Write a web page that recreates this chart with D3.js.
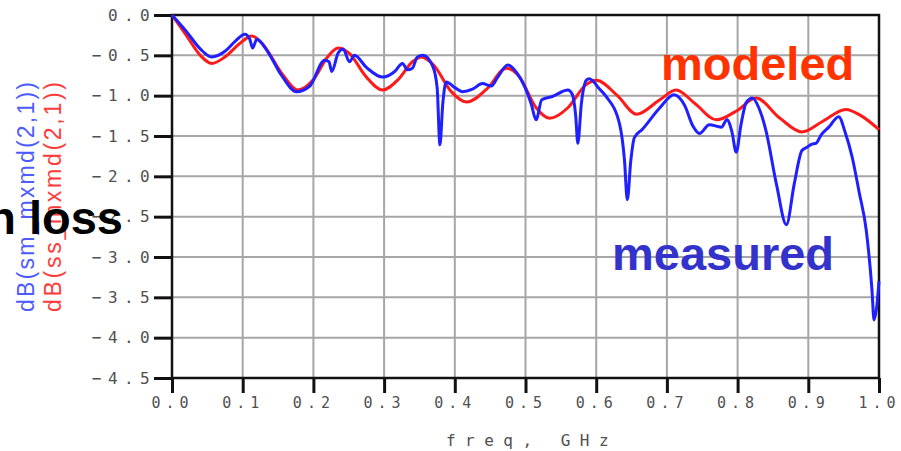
<!DOCTYPE html>
<html>
<head>
<meta charset="utf-8">
<script src="https://cdn.jsdelivr.net/npm/d3@7"></script>
<style>
    body { margin: 0; background: #fff; }
    svg { display: block; }
</style>
</head>
<body>
<div id="app"></div>
<script>

// modeled (red) curve
const modeled_freq = [0, 0.02, 0.04, 0.056, 0.075, 0.095, 0.113, 0.13, 0.155, 0.178, 0.2, 0.22, 0.235, 0.25, 0.275, 0.298, 0.32, 0.34, 0.353, 0.37, 0.395, 0.417, 0.445, 0.473, 0.49, 0.515, 0.534, 0.56, 0.585, 0.6, 0.63, 0.657, 0.69, 0.713, 0.74, 0.77, 0.8, 0.826, 0.86, 0.891, 0.92, 0.953, 0.975, 1.0]
const modeled_db = [0, -0.25, -0.5, -0.6, -0.52, -0.36, -0.26, -0.38, -0.72, -0.93, -0.8, -0.52, -0.41, -0.47, -0.77, -0.93, -0.8, -0.58, -0.52, -0.62, -0.95, -1.08, -0.92, -0.66, -0.75, -1.15, -1.28, -1.15, -0.87, -0.81, -1.0, -1.23, -1.05, -0.93, -1.1, -1.3, -1.18, -1.03, -1.28, -1.45, -1.32, -1.17, -1.25, -1.42]

// measured (blue) curve
const measured_freq = [0, 0.02, 0.04, 0.056, 0.075, 0.09, 0.103, 0.11, 0.114, 0.12, 0.135, 0.155, 0.176, 0.195, 0.216, 0.222, 0.226, 0.235, 0.242, 0.251, 0.258, 0.275, 0.298, 0.315, 0.326, 0.333, 0.34, 0.347, 0.355, 0.369, 0.375, 0.379, 0.383, 0.388, 0.4, 0.411, 0.425, 0.439, 0.452, 0.46, 0.475, 0.488, 0.499, 0.508, 0.515, 0.523, 0.538, 0.56, 0.566, 0.571, 0.574, 0.579, 0.586, 0.59, 0.605, 0.614, 0.633, 0.64, 0.644, 0.649, 0.654, 0.665, 0.69, 0.71, 0.725, 0.737, 0.746, 0.76, 0.777, 0.785, 0.792, 0.798, 0.805, 0.812, 0.821, 0.83, 0.84, 0.855, 0.869, 0.88, 0.891, 0.898, 0.905, 0.911, 0.918, 0.929, 0.943, 0.952, 0.962, 0.972, 0.982, 0.99, 0.993, 0.997, 1.0]
const measured_db = [0, -0.2, -0.42, -0.52, -0.45, -0.32, -0.24, -0.3, -0.41, -0.3, -0.45, -0.75, -0.95, -0.88, -0.56, -0.58, -0.7, -0.47, -0.42, -0.58, -0.5, -0.65, -0.77, -0.7, -0.6, -0.68, -0.66, -0.52, -0.5, -0.64, -0.9, -1.61, -1.1, -0.83, -0.9, -0.95, -0.92, -0.85, -0.88, -0.78, -0.62, -0.72, -0.89, -1.1, -1.3, -1.05, -1.01, -0.93, -0.98, -1.25, -1.59, -1.1, -0.81, -0.79, -0.92, -1.01, -1.35, -1.8, -2.29, -1.8, -1.52, -1.42, -1.15, -0.99, -1.12, -1.38, -1.47, -1.36, -1.39, -1.3, -1.45, -1.7, -1.35, -1.09, -1.03, -1.15, -1.43, -2.1, -2.6, -2.1, -1.68, -1.64, -1.6, -1.59, -1.49, -1.39, -1.26, -1.45, -1.76, -2.2, -2.67, -3.4, -3.78, -3.6, -3.3]

const x_ticks = [0, 0.1, 0.2, 0.3, 0.4, 0.5, 0.6, 0.7, 0.8, 0.9, 1.0]
const y_ticks = [0, -0.5, -1.0, -1.5, -2.0, -2.5, -3.0, -3.5, -4.0, -4.5]
const series_labels = ['dB(sm_mxmd(2,1))', 'dB(ss_mxmd(2,1))']
const x_title = 'freq, GHz'
const title_text = 'Insertion loss'
const modeled_text = 'modeled'
const measured_text = 'measured'

;(() => {

    const width = 901
    const height = 451

    const x_scale = d3
        .scaleLinear()
        .domain([0, 1])
        .range([172, 879])

    const y_scale = d3
        .scaleLinear()
        .domain([0, -4.5])
        .range([15, 378])

    const svg = d3
        .create('svg')
        .attr('viewBox', [0, 0, width, height])
        .attr('width', width)
        .attr('height', height)

    // grid
    svg
        .append('g')
        .selectAll('line')
        .data(x_ticks.slice(1, -1))
        .join('line')
        .attr('x1', d => x_scale(d))
        .attr('x2', d => x_scale(d))
        .attr('y1', y_scale.range()[0])
        .attr('y2', y_scale.range()[1])
        .attr('stroke', '#a6a6a6')
        .attr('stroke-width', 2)

    svg
        .append('g')
        .selectAll('line')
        .data(y_ticks.slice(1, -1))
        .join('line')
        .attr('x1', x_scale.range()[0])
        .attr('x2', x_scale.range()[1])
        .attr('y1', d => y_scale(d))
        .attr('y2', d => y_scale(d))
        .attr('stroke', '#a6a6a6')
        .attr('stroke-width', 2)

    // axes
    const x_axis = svg
        .append('g')
        .attr('transform', `translate(0, ${y_scale.range()[1]})`)
        .call(d3.axisBottom(x_scale)
            .tickValues(x_ticks)
            .tickFormat(d3.format('.1f'))
            .tickSize(15)
            .tickPadding(4))

    const y_axis = svg
        .append('g')
        .attr('transform', `translate(${x_scale.range()[0]}, 0)`)
        .call(d3.axisLeft(y_scale)
            .tickValues(y_ticks)
            .tickFormat(d3.format('.1f'))
            .tickSize(18)
            .tickPadding(0))

    ;[x_axis, y_axis].forEach(a => {
        a.select('.domain').remove()
        a.selectAll('.tick line')
            .attr('stroke', '#111')
            .attr('stroke-width', 3)
        a.selectAll('.tick text')
            .attr('fill', '#505050')
            .style('font-family', "'DejaVu Sans Mono', monospace")
    })

    x_axis.selectAll('.tick text')
        .style('font-size', '15px')
        .style('letter-spacing', '5px')

    y_axis.selectAll('.tick text')
        .attr('x', -16)
        .style('font-size', '16px')
        .style('letter-spacing', '6.4px')

    // frame
    svg
        .append('rect')
        .attr('x', x_scale.range()[0])
        .attr('y', y_scale.range()[0])
        .attr('width', x_scale.range()[1] - x_scale.range()[0])
        .attr('height', y_scale.range()[1] - y_scale.range()[0])
        .attr('fill', 'none')
        .attr('stroke', '#111')
        .attr('stroke-width', 2.5)

    const line = d3
        .line()
        .x(d => x_scale(d[0]))
        .y(d => y_scale(d[1]))
        .curve(d3.curveMonotoneX)

    svg
        .append('path')
        .datum(d3.zip(modeled_freq, modeled_db))
        .attr('d', line)
        .attr('fill', 'none')
        .attr('stroke', '#ff1a1a')
        .attr('stroke-width', 3)
        .attr('stroke-linejoin', 'round')

    svg
        .append('path')
        .datum(d3.zip(measured_freq, measured_db))
        .attr('d', line)
        .attr('fill', 'none')
        .attr('stroke', '#1f1fff')
        .attr('stroke-width', 3)
        .attr('stroke-linejoin', 'round')

    // x title
    svg
        .append('text')
        .attr('x', 532)
        .attr('y', 446)
        .attr('text-anchor', 'middle')
        .attr('fill', '#505050')
        .style('font-family', "'DejaVu Sans Mono', monospace")
        .style('font-size', '16px')
        .style('letter-spacing', '9.5px')
        .text(x_title)

    // rotated series labels
    svg
        .append('g')
        .selectAll('text')
        .data(series_labels)
        .join('text')
        .attr('transform', (d, i) => `translate(${[34, 61][i]}, 197) rotate(-90)`)
        .attr('text-anchor', 'middle')
        .attr('textLength', 230)
        .attr('lengthAdjust', 'spacing')
        .attr('fill', (d, i) => ['#4d5cff', '#ff3a3a'][i])
        .style('font-family', "'Liberation Sans', Arial, sans-serif")
        .style('font-size', '23px')
        .text(d => d)

    // annotations
    const big = (txt, x, y, color, anchor) => svg
        .append('text')
        .attr('x', x)
        .attr('y', y)
        .attr('text-anchor', anchor)
        .attr('fill', color)
        .style('font-family', "'Liberation Sans', Arial, sans-serif")
        .style('font-weight', 'bold')
        .style('font-size', '47px')
        .text(txt)

    big(title_text, 123, 234, '#000', 'end')
    big(modeled_text, 661, 80, '#ff3300', 'start')
    big(measured_text, 612, 270, '#3333cc', 'start')

    d3.select('#app').append(() => svg.node())

})()
</script>
</body>
</html>
